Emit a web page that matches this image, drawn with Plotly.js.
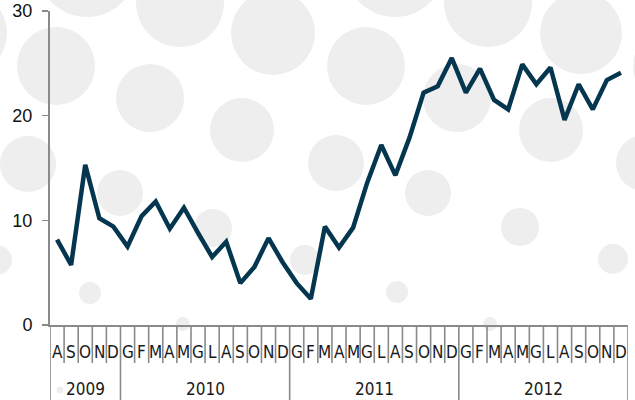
<!DOCTYPE html>
<html>
<head>
<meta charset="utf-8">
<script src="https://cdn.plot.ly/plotly-3.0.1.min.js"></script>
<style>html,body{margin:0;padding:0;background:#fff;}#chart{width:635px;height:400px;}</style>
</head>
<body>
<div id="chart"></div>
<script>
// ---- data ----
const yearLabels = ['2009', '2010', '2011', '2012'];
const yearCounts = [5, 12, 12, 12];
const monthLabels = [
  'A','S','O','N','D',
  'G','F','M','A','M','G','L','A','S','O','N','D',
  'G','F','M','A','M','G','L','A','S','O','N','D',
  'G','F','M','A','M','G','L','A','S','O','N','D'
];
const values = [
  8.15, 5.75, 15.3, 10.2, 9.4,
  7.5, 10.4, 11.8, 9.2, 11.2, 8.8, 6.5, 7.95, 4.0, 5.55, 8.3, 6.0,
  4.0, 2.5, 9.4, 7.4, 9.3, 13.6, 17.2, 14.3, 17.9, 22.2, 22.8, 25.5,
  22.2, 24.5, 21.5, 20.6, 24.9, 23.0, 24.6, 19.6, 23.0, 20.6, 23.4, 24.1
];
const yTicks = [0, 10, 20, 30];

// ---- layout geometry (pixels) ----
const W = 635, H = 400;
const M = {l: 50, r: 7, t: 11, b: 75};
const plotW = W - M.l - M.r, plotH = H - M.t - M.b;
const px2x = px => (px - M.l) / plotW;
const py2y = py => (H - M.b - py) / plotH;

// background decoration circles [cx, cy, r] in pixels
const deco = [
  [87,-33,50],[395,-33,50],[180,3,44],[488,3,44],
  [-35,33,42],[273,33,42],[581,33,41],
  [56,66,39],[366,66,39],[672,66,39],
  [150,98,34],[457,98,34],
  [242,130,32],[551,130,32],
  [28,164,28],[336,163,28],[644,163,28],
  [120,193,23],[428,193,23],
  [213,228,19],[520,227,19],
  [-3,260,15],[305,260,15],[613,259,15],
  [90,293,11],[397,292,11],
  [183,324,7],[490,324,7],
  [60,390,3.5],[368,390,3.5],
  [273,357,2],[583,357,2]
];

const shapes = [];
deco.forEach(([cx, cy, r]) => {
  shapes.push({
    type: 'circle', xref: 'paper', yref: 'paper', layer: 'below',
    x0: px2x(cx - r), x1: px2x(cx + r), y0: py2y(cy + r), y1: py2y(cy - r),
    fillcolor: '#eeeeee', line: {width: 0}
  });
});

const n = values.length;
const xs = values.map((_, i) => i);

// year boundaries
const yearBounds = [0];
yearCounts.forEach(c => yearBounds.push(yearBounds[yearBounds.length - 1] + c));

const divColor = '#8a8a8a';
for (let i = 0; i <= n; i++) {
  const isYear = yearBounds.includes(i);
  shapes.push({
    type: 'line', xref: 'x', yref: 'paper', layer: 'above',
    x0: i - 0.5, x1: i - 0.5, y0: 0, y1: isYear ? py2y(401) : py2y(363),
    line: {color: divColor, width: 1.6}
  });
}

const annotations = [];
const narrow = '"Liberation Sans Narrow", "DejaVu Sans Condensed", "Roboto Condensed", sans-serif';
monthLabels.forEach((m, i) => {
  annotations.push({
    x: i, y: py2y(352), xref: 'x', yref: 'paper', text: m, showarrow: false,
    xanchor: 'center', yanchor: 'middle',
    font: {family: narrow, size: 17, color: '#1a1a1a'}
  });
});
yearLabels.forEach((yl, k) => {
  const c = (yearBounds[k] + yearBounds[k + 1] - 1) / 2;
  annotations.push({
    x: c, y: py2y(389), xref: 'x', yref: 'paper', text: yl, showarrow: false,
    xanchor: 'center', yanchor: 'middle',
    font: {family: narrow, size: 17, color: '#1a1a1a'}
  });
});

const trace = {
  x: xs, y: values, type: 'scatter', mode: 'lines',
  line: {color: '#04364f', width: 4.5},
  hoverinfo: 'skip'
};

const layout = {
  width: W, height: H,
  margin: M,
  paper_bgcolor: '#ffffff',
  plot_bgcolor: 'rgba(0,0,0,0)',
  showlegend: false,
  xaxis: {
    range: [-0.5, n - 0.5], showgrid: false, zeroline: false,
    showticklabels: false, ticks: '',
    showline: true, linecolor: divColor, linewidth: 2, fixedrange: true
  },
  yaxis: {
    range: [0, 30], tickvals: yTicks, ticktext: yTicks.map(String),
    showgrid: false, zeroline: false,
    showline: true, linecolor: divColor, linewidth: 2,
    ticks: 'outside', ticklen: 6, tickwidth: 1.6, tickcolor: divColor,
    ticklabelstandoff: 6,
    tickfont: {family: '"Liberation Sans", Arial, sans-serif', size: 18, color: '#111'},
    fixedrange: true
  },
  shapes: shapes,
  annotations: annotations
};

Plotly.newPlot('chart', [trace], layout, {displayModeBar: false, staticPlot: true});
</script>
</body>
</html>
